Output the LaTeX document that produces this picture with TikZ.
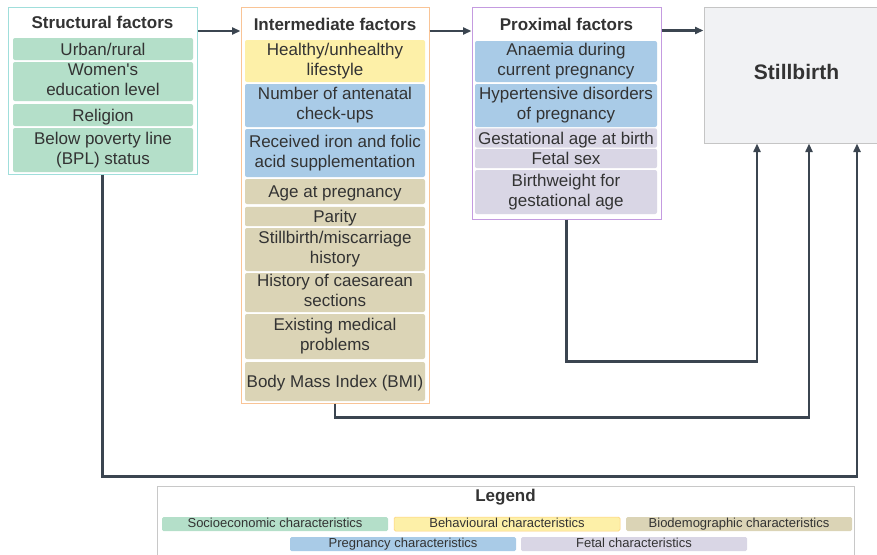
\documentclass[tikz,border=0pt]{standalone}
\usepackage{fontspec}
\setmainfont{Liberation Sans}
\usetikzlibrary{arrows.meta}
\definecolor{txt}{HTML}{333333}
\definecolor{cgreen}{HTML}{B4DFC9}
\definecolor{cyellow}{HTML}{FDF0A8}
\definecolor{ctan}{HTML}{DBD4B6}
\definecolor{cblue}{HTML}{A9CBE7}
\definecolor{clav}{HTML}{D9D6E5}
\definecolor{bstruct}{HTML}{A0DEDB}
\definecolor{binter}{HTML}{F9C496}
\definecolor{bprox}{HTML}{C49BE0}
\definecolor{bstill}{HTML}{C5C5C5}
\definecolor{fstill}{HTML}{F1F2F4}
\definecolor{blegend}{HTML}{C8C8C8}
\definecolor{cline}{HTML}{3B4550}
\begin{document}
\begin{tikzpicture}[x=1pt,y=-1pt,
  every node/.style={text=txt, font=\fontsize{17}{20}\selectfont, align=center, inner sep=0pt},
  outer/.style={draw, line width=1pt, fill=white},
  item/.style={rounded corners=2pt, execute at begin node={\rule{0pt}{15.8pt}}, execute at end node={\vphantom{y}}},
  ttl/.style={font=\bfseries\fontsize{17}{20}\selectfont},
  leg/.style={rounded corners=1.5pt, minimum width=226pt, minimum height=14pt, font=\fontsize{13}{15}\selectfont, text height=9.5pt, text depth=2.8pt},
  conn/.style={draw=cline, line width=2.2pt, -{Triangle[length=8.5pt,width=7pt]}}]
\useasboundingbox (0,0) rectangle (877,554);

% outer boxes
\node[outer, draw=bstruct, minimum width=189pt, minimum height=167pt] (s) at (102.5,90.5) {};
\node[outer, draw=binter, minimum width=188pt, minimum height=396pt] (i) at (335,205) {};
\node[outer, draw=bprox, minimum width=189pt, minimum height=212pt] (p) at (566.5,113) {};
\node[outer, draw=bstill, fill=fstill, minimum width=186pt, minimum height=136pt] (sb) at (797,75) {};
\node[ttl, font=\bfseries\fontsize{21}{24}\selectfont] (sbt) at (796.5,72) {Stillbirth};

% titles
\node[ttl] (st) at (102.5,22) {Structural factors};
\node[ttl] (it) at (335,24) {Intermediate factors};
\node[ttl] (pt) at (566.5,24) {Proximal factors};

% structural items
\node[item, fill=cgreen, minimum width=180pt, minimum height=22pt] (s1) at (103,49) {Urban/rural};
\node[item, fill=cgreen, minimum width=180pt, minimum height=39pt] (s2) at (103,81.5) {Women\textquotesingle s\\education level};
\node[item, fill=cgreen, minimum width=180pt, minimum height=22pt] (s3) at (103,115) {Religion};
\node[item, fill=cgreen, minimum width=180pt, minimum height=44pt] (s4) at (103,150) {Below poverty line\\(BPL) status};

% intermediate items
\node[item, fill=cyellow, minimum width=180pt, minimum height=42pt] (i1) at (335,61) {Healthy/unhealthy\\lifestyle};
\node[item, fill=cblue, minimum width=180pt, minimum height=43pt] (i2) at (335,105.5) {Number of antenatal\\check-ups};
\node[item, fill=cblue, minimum width=180pt, minimum height=48pt] (i3) at (335,153) {Received iron and folic\\acid supplementation};
\node[item, fill=ctan, minimum width=180pt, minimum height=25pt] (i4) at (335,191.5) {Age at pregnancy};
\node[item, fill=ctan, minimum width=180pt, minimum height=19pt] (i5) at (335,216.5) {Parity};
\node[item, fill=ctan, minimum width=180pt, minimum height=43pt] (i6) at (335,249.5) {Stillbirth/miscarriage\\history};
\node[item, fill=ctan, minimum width=180pt, minimum height=39pt] (i7) at (335,292.5) {History of caesarean\\sections};
\node[item, fill=ctan, minimum width=180pt, minimum height=45pt] (i8) at (335,336.5) {Existing medical\\problems};
\node[item, fill=ctan, minimum width=180pt, minimum height=39pt] (i9) at (335,381.5) {Body Mass Index (BMI)};

% proximal items
\node[item, fill=cblue, minimum width=182pt, minimum height=41pt] (p1) at (566,61.5) {Anaemia during\\current pregnancy};
\node[item, fill=cblue, minimum width=182pt, minimum height=43pt] (p2) at (566,105.5) {Hypertensive disorders\\of pregnancy};
\node[item, fill=clav, minimum width=182pt, minimum height=18pt] (p3) at (566,138) {Gestational age at birth};
\node[item, fill=clav, minimum width=182pt, minimum height=19pt] (p4) at (566,158.5) {Fetal sex};
\node[item, fill=clav, minimum width=182pt, minimum height=44pt] (p5) at (566,192) {Birthweight for\\gestational age};

% connectors
\draw[conn] ([yshift=-24.5pt]s.north east) -- ([yshift=-24.5pt]i.north west);
\draw[conn] ([yshift=-24.5pt]i.north east) -- ([yshift=-24.5pt]p.north west);
\draw[conn] ([yshift=-24pt]p.north east) -- ([yshift=-24pt]sb.north west);
\draw[conn] (p.south) -- ++(0,142) -| ([xshift=-40pt]sb.south);
\draw[conn] (i.south) -- ++(0,14) -| ([xshift=12pt]sb.south);
\draw[conn] (s.south) -- ++(0,302) -| ([xshift=60pt]sb.south);

% legend
\node[draw=blegend, line width=0.8pt, anchor=north west, minimum width=697pt, minimum height=80pt] (lg) at (157,486) {};
\node[ttl] (lgt) at (505.5,497.5) {Legend};
\node[leg, fill=cgreen] (l1) at (275,524) {Socioeconomic characteristics};
\node[leg, fill=cyellow, draw=cyellow!70!orange, line width=0.5pt] (l2) at (507,524) {Behavioural characteristics};
\node[leg, fill=ctan] (l3) at (739,524) {Biodemographic characteristics};
\node[leg, fill=cblue] (l4) at (403,544) {Pregnancy characteristics};
\node[leg, fill=clav] (l5) at (634,544) {Fetal characteristics};
\end{tikzpicture}
\end{document}
